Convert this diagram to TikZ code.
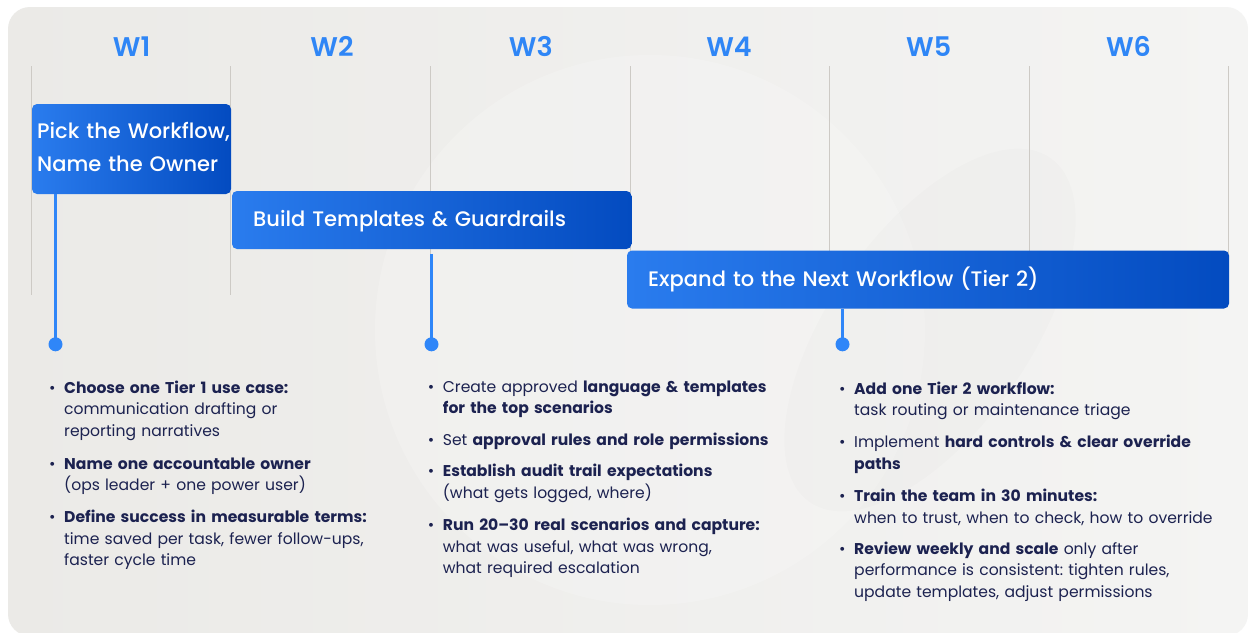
\documentclass[tikz,border=0pt]{standalone}
\usepackage{fontspec}
\setmainfont{Poppins}
\newfontfamily\medfont{Poppins Medium}
\newfontfamily\semifont{Poppins SemiBold}
\frenchspacing

\definecolor{bgbase}{HTML}{EBEAE7}
\definecolor{bglight}{HTML}{F4F4F3}
\definecolor{gridcol}{HTML}{CDCAC5}
\definecolor{weekblue}{HTML}{2F86F6}
\definecolor{barL}{HTML}{2A7CEE}
\definecolor{barR}{HTML}{034BC0}
\definecolor{linkblue}{HTML}{2F86F8}
\definecolor{ink}{HTML}{1C2250}

% bullet hung to the left of the item text
\newcommand\itembullet{\llap{\makebox[15pt][l]{•}}}

\tikzset{
  gridline/.style={draw=gridcol, line width=1pt},
  week/.style={anchor=base, text=weekblue, inner sep=0pt,
    font=\semifont\fontsize{27}{27}\selectfont},
  bar/.style={anchor=north west, inner sep=0pt, outer sep=0pt,
    rounded corners=5pt, left color=barL, right color=barR},
  bartext/.style={anchor=base west, inner sep=0pt, text=white, align=left,
    text width=560pt, font=\medfont\fontsize{21}{32.5}\selectfont},
  dot/.style={circle, fill=linkblue, minimum size=14pt, inner sep=0pt},
  link/.style={draw=linkblue, line width=3pt},
  item/.style={anchor=base west, inner sep=0pt, text width=390pt, align=left,
    text=ink, font=\fontsize{15.6}{21.5}\selectfont},
}

\begin{document}
\begin{tikzpicture}[x=1pt, y=-1pt]
  \useasboundingbox (0,0) rectangle (1249,632);
  \fill[white] (0,0) rectangle (1249,632);

  % card background with faint watermark shapes
  \begin{scope}
    \path[clip, rounded corners=22pt] (8,7) rectangle (1248,636);
    \shade[left color=bgbase, right color=bglight] (0,0) rectangle (1249,640);
    \fill[white, opacity=0.18] (650,330) circle (275);
    \fill[black, opacity=0.012, rotate around={-35:(930,330)}] (930,330) ellipse (100 and 210);
  \end{scope}

  % week grid
  \foreach \x in {31,230.5,430,630,829.5,1029,1228.5}
    \draw[gridline] (\x,66) -- (\x,295);

  % week headings
  \node[week] (w1) at (131.7,56.7) {W1};
  \node[week] (w2) at (332,56.7) {W2};
  \node[week] (w3) at (530.8,56.7) {W3};
  \node[week] (w4) at (729,56.7) {W4};
  \node[week] (w5) at (928.7,56.7) {W5};
  \node[week] (w6) at (1128.5,56.7) {W6};

  % phase bars
  \node[bar, minimum width=199pt, minimum height=90pt] (bar1) at (32,104) {};
  \node[bar, minimum width=399.5pt, minimum height=58pt] (bar2) at (232,191) {};
  \node[bar, minimum width=602pt, minimum height=58pt] (bar3) at (627,250.5) {};

  \node[bartext] (t1) at (37,138.5) {Pick the Workflow,\\Name the Owner};
  \node[bartext] (t2) at (253,226) {Build Templates \& Guardrails};
  \node[bartext] (t3) at (648,286) {Expand to the Next Workflow (Tier 2)};

  % markers and their stems
  \node[dot] (d1) at (55.5,344.3) {};
  \node[dot] (d2) at (431.5,344.3) {};
  \node[dot] (d3) at (842.5,344.3) {};
  \draw[link] (bar1.south -| d1) -- (d1.center);
  \draw[link, shorten <=5pt] (bar2.south -| d2) -- (d2.center);
  \draw[link] (bar3.south -| d3) -- (d3.center);

  % week 1 tasks
  \node[item] (a1) at (64,393)
    {\itembullet\textbf{Choose one Tier 1 use case:}\\communication drafting or\\reporting narratives};
  \node[item] (a2) at (64,469.3)
    {\itembullet\textbf{Name one accountable owner}\\(ops leader + one power user)};
  \node[item] (a3) at (64,522.7)
    {\itembullet\textbf{Define success in measurable terms:}\\time saved per task, fewer follow-ups,\\faster cycle time};

  % weeks 2-3 tasks
  \node[item] (b1) at (442.7,392.3)
    {\itembullet Create approved \textbf{language \& templates}\\\textbf{for the top scenarios}};
  \node[item] (b2) at (442.7,445.7)
    {\itembullet Set \textbf{approval rules and role permissions}};
  \node[item] (b3) at (442.7,476.7)
    {\itembullet\textbf{Establish audit trail expectations}\\(what gets logged, where)};
  \node[item] (b4) at (442.7,530.7)
    {\itembullet\textbf{Run 20–30 real scenarios and capture:}\\what was useful, what was wrong,\\what required escalation};

  % weeks 4-6 tasks
  \node[item] (c1) at (854,394.3)
    {\itembullet\textbf{Add one Tier 2 workflow:}\\task routing or maintenance triage};
  \node[item] (c2) at (854,447.7)
    {\itembullet Implement \textbf{hard controls \& clear override}\\\textbf{paths}};
  \node[item] (c3) at (854,501.7)
    {\itembullet\textbf{Train the team in 30 minutes:}\\when to trust, when to check, how to override};
  \node[item] (c4) at (854,554.3)
    {\itembullet\textbf{Review weekly and scale} only after\\performance is consistent: tighten rules,\\update templates, adjust permissions};
\end{tikzpicture}
\end{document}
